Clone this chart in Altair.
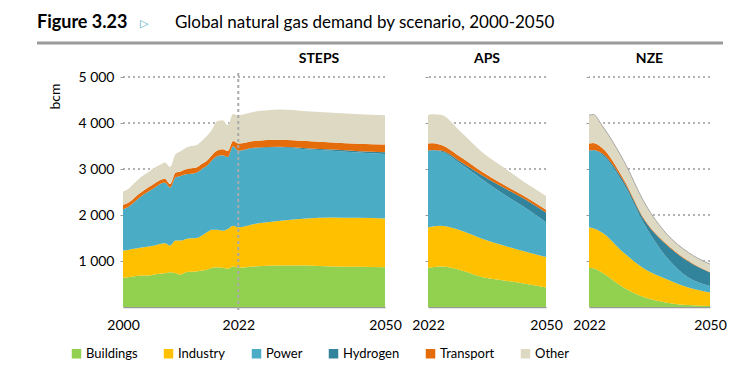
import altair as alt
import pandas as pd

FONT = "Lato"

sectors = ["Buildings", "Industry", "Power", "Hydrogen", "Transport", "Other"]
colors = ["#92D050", "#FFC000", "#4BACC6", "#31849B", "#E46C0A", "#DDD9C3"]
y_ticks = [1000, 2000, 3000, 4000, 5000]

# Historical (2000-2021), bcm
hist_years = list(range(2000, 2022))
hist_buildings = [635, 649, 664, 678, 685, 685, 707, 722, 736, 758, 736, 707, 758, 765, 772, 794, 808, 851, 866, 851, 830, 880]
hist_industry = [592, 592, 600, 606, 614, 628, 628, 649, 649, 577, 707, 736, 721, 729, 729, 757, 815, 830, 815, 808, 866, 888]
hist_power = [900, 935, 1005, 1080, 1150, 1210, 1260, 1300, 1320, 1260, 1370, 1405, 1405, 1405, 1420, 1445, 1445, 1510, 1600, 1640, 1565, 1725]
hist_hydrogen = [0] * 22
hist_transport = [95, 90, 85, 90, 90, 90, 90, 85, 85, 80, 105, 100, 110, 115, 110, 110, 110, 115, 120, 130, 130, 115]
hist_other = [290, 300, 320, 330, 330, 335, 340, 330, 350, 370, 400, 440, 470, 485, 485, 505, 540, 555, 640, 630, 565, 590]

# STEPS projections
steps_years = [2022, 2025, 2030, 2035, 2040, 2045, 2050]
steps_buildings = [855, 880, 902, 902, 880, 873, 866]
steps_industry = [877, 924, 974, 1024, 1068, 1065, 1060]
steps_power = [1659, 1645, 1590, 1505, 1450, 1420, 1400]
steps_hydrogen = [10, 12, 15, 20, 25, 30, 40]
steps_transport = [155, 150, 155, 155, 155, 160, 165]
steps_other = [614, 631, 657, 651, 643, 642, 639]

# APS / NZE projections
proj_years = [2022, 2023, 2025, 2030, 2035, 2040, 2045, 2050]
aps_buildings = [855, 862, 880, 794, 649, 577, 505, 425]
aps_industry = [877, 890, 888, 865, 830, 758, 700, 660]
aps_power = [1659, 1650, 1615, 1440, 1290, 1115, 960, 760]
aps_hydrogen = [10, 12, 20, 45, 85, 140, 180, 210]
aps_transport = [155, 148, 125, 100, 75, 65, 57, 60]
aps_other = [614, 630, 650, 544, 426, 375, 303, 300]

nze_buildings = [855, 840, 749, 422, 204, 95, 44, 20]
nze_industry = [877, 870, 873, 763, 618, 509, 378, 293]
nze_power = [1659, 1690, 1690, 1491, 945, 472, 218, 145]
nze_hydrogen = [10, 15, 30, 60, 95, 270, 350, 291]
nze_transport = [155, 150, 120, 49, 25, 21, 14, 11]
nze_other = [614, 620, 487, 400, 353, 218, 181, 171]

rows = []


def add(scn, years, series):
    for i, (sec, vals) in enumerate(zip(sectors, series)):
        for y, v in zip(years, vals):
            rows.append({"scenario": scn, "year": y, "sector": sec, "ord": i, "value": v})


add("STEPS", hist_years, [hist_buildings, hist_industry, hist_power, hist_hydrogen, hist_transport, hist_other])
add("STEPS", steps_years, [steps_buildings, steps_industry, steps_power, steps_hydrogen, steps_transport, steps_other])
add("APS", proj_years, [aps_buildings, aps_industry, aps_power, aps_hydrogen, aps_transport, aps_other])
add("NZE", proj_years, [nze_buildings, nze_industry, nze_power, nze_hydrogen, nze_transport, nze_other])
df = pd.DataFrame(rows)
one = pd.DataFrame({"a": [0]})
grid_df = pd.DataFrame({"value": y_ticks})

legend = alt.Legend(
    title=None, orient="none", legendX=-53, legendY=270, direction="horizontal",
    columns=6, symbolType="square", symbolSize=90, symbolStrokeWidth=0, symbolOpacity=1,
    labelFont=FONT, labelFontSize=13, labelColor="#000", columnPadding=24,
    labelOffset=3,
)


def panel(scn, domain, width, xvals, first):
    if first:
        yaxis = alt.Axis(
            values=y_ticks,
            labelExpr="replace(format(datum.value, ','), ',', ' ')",
            domain=False, grid=False, tickSize=3, tickColor="#999", labelPadding=6,
            labelFont=FONT, labelFontSize=14, labelColor="#000",
            title="bcm", titleFont=FONT, titleFontSize=14, titleFontWeight="normal",
            titleColor="#000", titleAngle=270, titleX=-68, titleY=19,
            titleAlign="center", titleBaseline="middle",
        )
    else:
        yaxis = alt.Axis(
            values=y_ticks, labels=False, domain=False, grid=False,
            tickSize=3, tickColor="#999", title=None,
        )
    yscale = alt.Scale(domain=[0, 5000], nice=False)
    xaxis = alt.Axis(values=xvals, format="d", labelFlush=False, ticks=False,
                     domainColor="#999", domainWidth=1.5, labelPadding=11,
                     labelFont=FONT, labelFontSize=14, labelColor="#000",
                     grid=False, title=None)
    xscale = alt.Scale(domain=domain, nice=False, zero=False)
    sub_df = df[df.scenario == scn]

    grid = alt.Chart(grid_df).mark_rule(strokeDash=[2, 3], color="#999", strokeWidth=1.5).encode(
        y=alt.Y("value:Q", scale=yscale, axis=yaxis))
    area = alt.Chart(sub_df).mark_area(interpolate="monotone", opacity=1).encode(
        x=alt.X("year:Q", scale=xscale, axis=xaxis),
        y=alt.Y("value:Q", stack="zero", scale=yscale, axis=yaxis),
        color=alt.Color("sector:N", scale=alt.Scale(domain=sectors, range=colors), legend=legend),
        order=alt.Order("ord:Q"),
    )
    title_x = 196 if first else width / 2
    ptitle = alt.Chart(one).mark_text(
        text=scn, font=FONT, fontSize=14, fontWeight="bold", color="#000", baseline="middle"
    ).encode(x=alt.value(title_x), y=alt.value(-18))
    layers = [grid, area, ptitle]
    if scn == "NZE":
        outline = alt.Chart(sub_df).transform_aggregate(
            total="sum(value)", groupby=["year"]
        ).mark_line(interpolate="monotone", color="#a8a8a8", strokeWidth=1).encode(
            x=alt.X("year:Q", scale=xscale, axis=xaxis),
            y=alt.Y("total:Q", scale=yscale, axis=yaxis))
        layers.append(outline)
    if first:
        vline = alt.Chart(one).mark_rule(strokeDash=[3, 3], color="#aaa", strokeWidth=2).encode(
            x=alt.datum(2022), y=alt.value(-4), y2=alt.value(234))
        fig = alt.Chart(one).mark_text(
            text="Figure 3.23", font=FONT, fontSize=18, fontWeight="bold", color="#000",
            align="left", baseline="alphabetic").encode(x=alt.value(-86), y=alt.value(-49))
        tri = alt.Chart(one).mark_text(
            text="▷", font="DejaVu Sans", fontSize=11, color="#4BACC6",
            align="left", baseline="alphabetic").encode(x=alt.value(17), y=alt.value(-50))
        sub = alt.Chart(one).mark_text(
            text="Global natural gas demand by scenario, 2000-2050", font=FONT, fontSize=17,
            color="#000", align="left", baseline="alphabetic").encode(x=alt.value(52), y=alt.value(-49))
        hline = alt.Chart(one).mark_rule(color="#9a9a9a", strokeWidth=3).encode(
            x=alt.value(-86), x2=alt.value(600), y=alt.value(-34))
        layers += [vline, fig, tri, sub, hline]
    return alt.layer(*layers).properties(width=width, height=230)


steps = panel("STEPS", [2000, 2050], 262, [2000, 2022, 2050], True)
aps = panel("APS", [2022, 2050], 118, [2022, 2050], False)
nze = panel("NZE", [2022, 2050], 121, [2022, 2050], False)

chart = alt.hconcat(steps, aps, nze, spacing=43, bounds="flush").resolve_scale(
    x="independent"
).properties(
    padding={"left": 27, "top": 6, "right": 0, "bottom": 4}
).configure(background="white").configure_view(stroke=None)

chart.save("out.html", embed_options={"renderer": "svg", "actions": False})
